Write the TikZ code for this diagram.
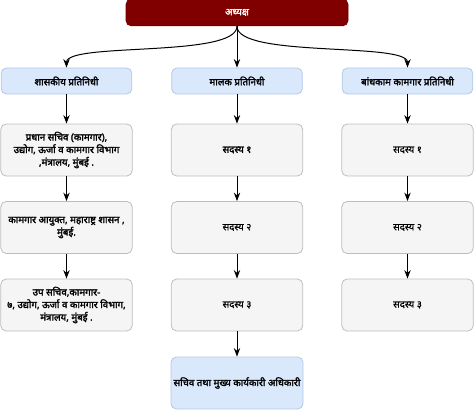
\documentclass[tikz,border=0pt]{standalone}
\usepackage{fontspec}
\setmainfont{Noto Sans}[Script=Devanagari, FakeBold=0.8, BoldFont={Noto Sans}, BoldFeatures={FakeBold=2.2}]
\usetikzlibrary{arrows.meta}

\definecolor{chairred}{HTML}{800000}
\definecolor{repblue}{HTML}{DAE8FC}
\definecolor{repline}{HTML}{B4C8E6}
\definecolor{memgray}{HTML}{F5F5F5}
\definecolor{memline}{HTML}{BDBDBD}

\begin{document}
\begin{tikzpicture}[>=Stealth, x=0.75pt, y=-0.75pt,
    box/.style={rounded corners=4pt, line width=0.6pt, align=center, inner sep=1pt,
      font=\fontsize{7.3}{9.4}\selectfont},
    chairbox/.style={box, fill=chairred, draw=chairred!85!black, text=white,
      minimum width=166.5pt, minimum height=20pt, font=\bfseries\fontsize{7.3}{9}\selectfont},
    repbox/.style={box, fill=repblue, draw=repline, minimum width=98pt,
      minimum height=19.5pt, font=\bfseries\fontsize{7.3}{9}\selectfont},
    membox/.style={box, fill=memgray, draw=memline, minimum width=98.5pt, minimum height=39pt},
    link/.style={->, line width=0.75pt}]

    % 画布范围
    \useasboundingbox (0,0) rectangle (474,410);

    % 顶部：अध्यक्ष
    \node[chairbox] (chair) at (237,12.5) {अध्यक्ष};

    % 三类代表
    \node[repbox] (govrep) at (66.5,81) {शासकीय प्रतिनिधी};
    \node[repbox] (emprep) at (237,81) {मालक प्रतिनिधी};
    \node[repbox] (labrep) at (407.5,81) {बांधकाम कामगार प्रतिनिधी};

    % 左列：शासकीय
    \node[membox, font=\bfseries\fontsize{7.3}{9.4}\selectfont] (gov1) at (66.5,150)
      {प्रधान सचिव (कामगार),\\ उद्योग, ऊर्जा व कामगार विभाग\\ ,मंत्रालय, मुंबई .};
    \node[membox, font=\bfseries\fontsize{7.3}{9.4}\selectfont] (gov2) at (66.5,227.5)
      {कामगार आयुक्त, महाराष्ट्र शासन ,\\ मुंबई.};
    \node[membox, font=\bfseries\fontsize{7.3}{9.4}\selectfont] (gov3) at (66.5,305)
      {उप सचिव,कामगार-\\ ७, उद्योग, ऊर्जा व कामगार विभाग,\\ मंत्रालय, मुंबई .};

    % 中列：मालक
    \node[membox, font=\bfseries\fontsize{7.3}{9.4}\selectfont] (emp1) at (237,150) {सदस्य १};
    \node[membox] (emp2) at (237,227.5) {सदस्य २};
    \node[membox] (emp3) at (237,305) {सदस्य ३};

    % 右列：बांधकाम कामगार
    \node[membox] (lab1) at (407.5,150) {सदस्य १};
    \node[membox] (lab2) at (407.5,227.5) {सदस्य २};
    \node[membox] (lab3) at (407.5,305) {सदस्य ३};

    % 底部：सचिव
    \node[repbox, minimum height=39pt, minimum width=99pt] (secy) at (237,383)
      {सचिव तथा मुख्य कार्यकारी अधिकारी};

    % 弯曲的分支箭头
    \draw[link] (chair.south) .. controls (237,58) and (66.5,42) .. (govrep.north);
    \draw[link] (chair.south) -- (emprep.north);
    \draw[link] (chair.south) .. controls (237,58) and (407.5,42) .. (labrep.north);

    % 竖直箭头
    \draw[link] (govrep) -- (gov1);
    \draw[link] (gov1) -- (gov2);
    \draw[link] (gov2) -- (gov3);
    \draw[link] (emprep) -- (emp1);
    \draw[link] (emp1) -- (emp2);
    \draw[link] (emp2) -- (emp3);
    \draw[link] (emp3) -- (secy);
    \draw[link] (labrep) -- (lab1);
    \draw[link] (lab1) -- (lab2);
    \draw[link] (lab2) -- (lab3);
  \end{tikzpicture}
\end{document}
